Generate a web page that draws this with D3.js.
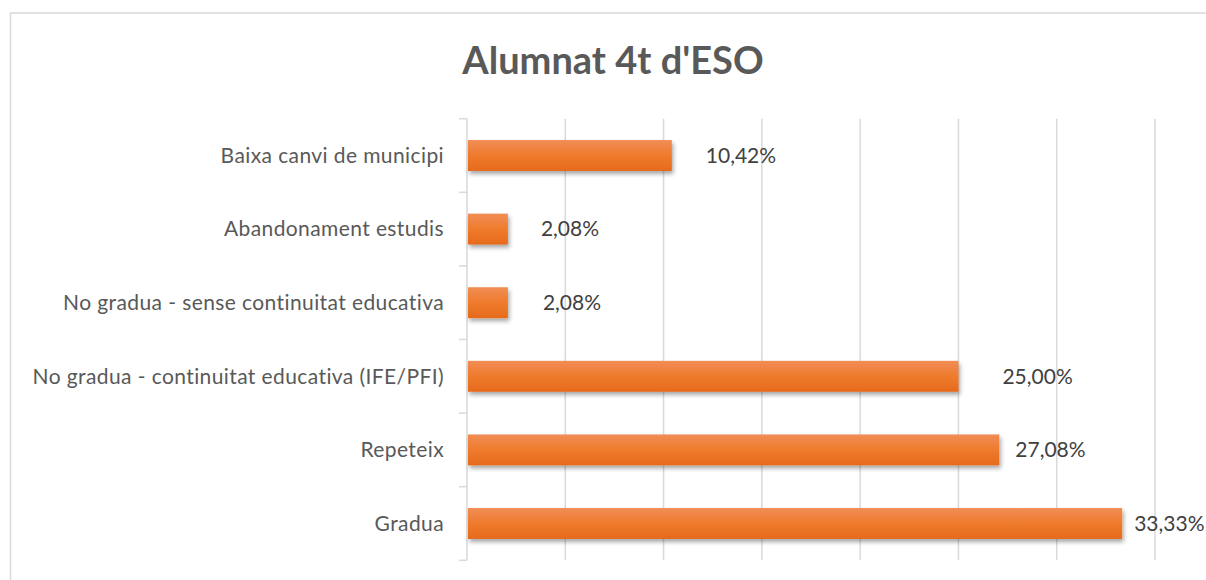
<!DOCTYPE html>
<html>
<head>
<meta charset="utf-8">
<script src="https://cdn.jsdelivr.net/npm/d3@7"></script>
<style>
  body { margin: 0; background: #fff; }
  svg { display: block; font-family: Lato, "Open Sans", sans-serif; }
</style>
</head>
<body>
<div id="chart"></div>
<script>
// data, top to bottom as drawn
var categories = [
  "Baixa canvi de municipi",
  "Abandonament estudis",
  "No gradua - sense continuitat educativa",
  "No gradua - continuitat educativa (IFE/PFI)",
  "Repeteix",
  "Gradua"
];
var values = [10.42, 2.08, 2.08, 25.00, 27.08, 33.33];
var valueLabels = ["10,42%", "2,08%", "2,08%", "25,00%", "27,08%", "33,33%"];
var gridTicks = [0, 5, 10, 15, 20, 25, 30, 35];

// label gaps after bar end (labels were moved by hand in the original)
var labelOffsets = [34, 33, 35, 44, 16, 12];

var svgWidth = 1206;
var svgHeight = 580;
var margin = { top: 118.7, right: 51, bottom: 19.7, left: 467 };
var width = svgWidth - margin.left - margin.right;
var height = svgHeight - margin.top - margin.bottom;

var svg = d3.select("#chart")
  .append("svg")
  .attr("width", svgWidth)
  .attr("height", svgHeight);

var defs = svg.append("defs");
var grad = defs.append("linearGradient")
  .attr("id", "barGrad")
  .attr("x1", 0).attr("y1", 0).attr("x2", 0).attr("y2", 1);
grad.append("stop").attr("offset", "0%").attr("stop-color", "#f18d55");
grad.append("stop").attr("offset", "50%").attr("stop-color", "#ef7b2d");
grad.append("stop").attr("offset", "100%").attr("stop-color", "#e66a1c");

var shadow = defs.append("filter")
  .attr("id", "barShadow")
  .attr("x", "-10%").attr("y", "-30%")
  .attr("width", "130%").attr("height", "180%");
shadow.append("feDropShadow")
  .attr("dx", 1.5).attr("dy", 3)
  .attr("stdDeviation", 2)
  .attr("flood-color", "#000")
  .attr("flood-opacity", 0.35);

// outer chart frame (extends past the window on right and bottom)
svg.append("rect")
  .attr("x", 10.5).attr("y", 13)
  .attr("width", 1220).attr("height", 600)
  .attr("fill", "none")
  .attr("stroke", "#d9d9d9")
  .attr("stroke-width", 1.5);

svg.append("text")
  .attr("x", 613)
  .attr("y", 74)
  .attr("text-anchor", "middle")
  .attr("font-size", "38px")
  .attr("font-weight", "bold")
  .attr("fill", "#595959")
  .text("Alumnat 4t d'ESO");

var chartGroup = svg.append("g")
  .attr("transform", `translate(${margin.left}, ${margin.top})`);

var xScale = d3.scaleLinear()
  .domain([0, 35])
  .range([0, width]);

var yScale = d3.scaleBand()
  .domain(categories)
  .range([0, height])
  .paddingInner(0.58)
  .paddingOuter(0.29);

// vertical gridlines
chartGroup.selectAll(".grid")
  .data(gridTicks.slice(1))
  .enter()
  .append("line")
  .attr("class", "grid")
  .attr("x1", d => xScale(d))
  .attr("x2", d => xScale(d))
  .attr("y1", 0)
  .attr("y2", height)
  .attr("stroke", "#d9d9d9")
  .attr("stroke-width", 1.5);

// category axis line and boundary ticks
chartGroup.append("line")
  .attr("x1", 0).attr("x2", 0)
  .attr("y1", 0).attr("y2", height)
  .attr("stroke", "#d9d9d9")
  .attr("stroke-width", 1.5);

var step = yScale.step();
var boundaries = d3.range(categories.length + 1).map(i => i * step);
chartGroup.selectAll(".tick-mark")
  .data(boundaries)
  .enter()
  .append("line")
  .attr("class", "tick-mark")
  .attr("x1", -8).attr("x2", 0)
  .attr("y1", d => d).attr("y2", d => d)
  .attr("stroke", "#d9d9d9")
  .attr("stroke-width", 1.5);

// category labels
chartGroup.selectAll(".cat-label")
  .data(categories)
  .enter()
  .append("text")
  .attr("class", "cat-label")
  .attr("x", -23)
  .attr("y", d => yScale(d) + yScale.bandwidth() / 2)
  .attr("dy", "0.35em")
  .attr("text-anchor", "end")
  .attr("font-size", "21px")
  .attr("letter-spacing", "0.4px")
  .attr("fill", "#595959")
  .text(d => d);

// bars
chartGroup.selectAll(".bar")
  .data(values)
  .enter()
  .append("rect")
  .attr("class", "bar")
  .attr("x", 1)
  .attr("y", (d, i) => yScale(categories[i]))
  .attr("width", d => xScale(d) - 1)
  .attr("height", yScale.bandwidth())
  .attr("fill", "url(#barGrad)")
  .attr("filter", "url(#barShadow)");

// value labels
chartGroup.selectAll(".val-label")
  .data(values)
  .enter()
  .append("text")
  .attr("class", "val-label")
  .attr("x", (d, i) => xScale(d) + labelOffsets[i])
  .attr("y", (d, i) => yScale(categories[i]) + yScale.bandwidth() / 2)
  .attr("dy", "0.35em")
  .attr("font-size", "21px")
  .attr("fill", "#404040")
  .text((d, i) => valueLabels[i]);
</script>
</body>
</html>
